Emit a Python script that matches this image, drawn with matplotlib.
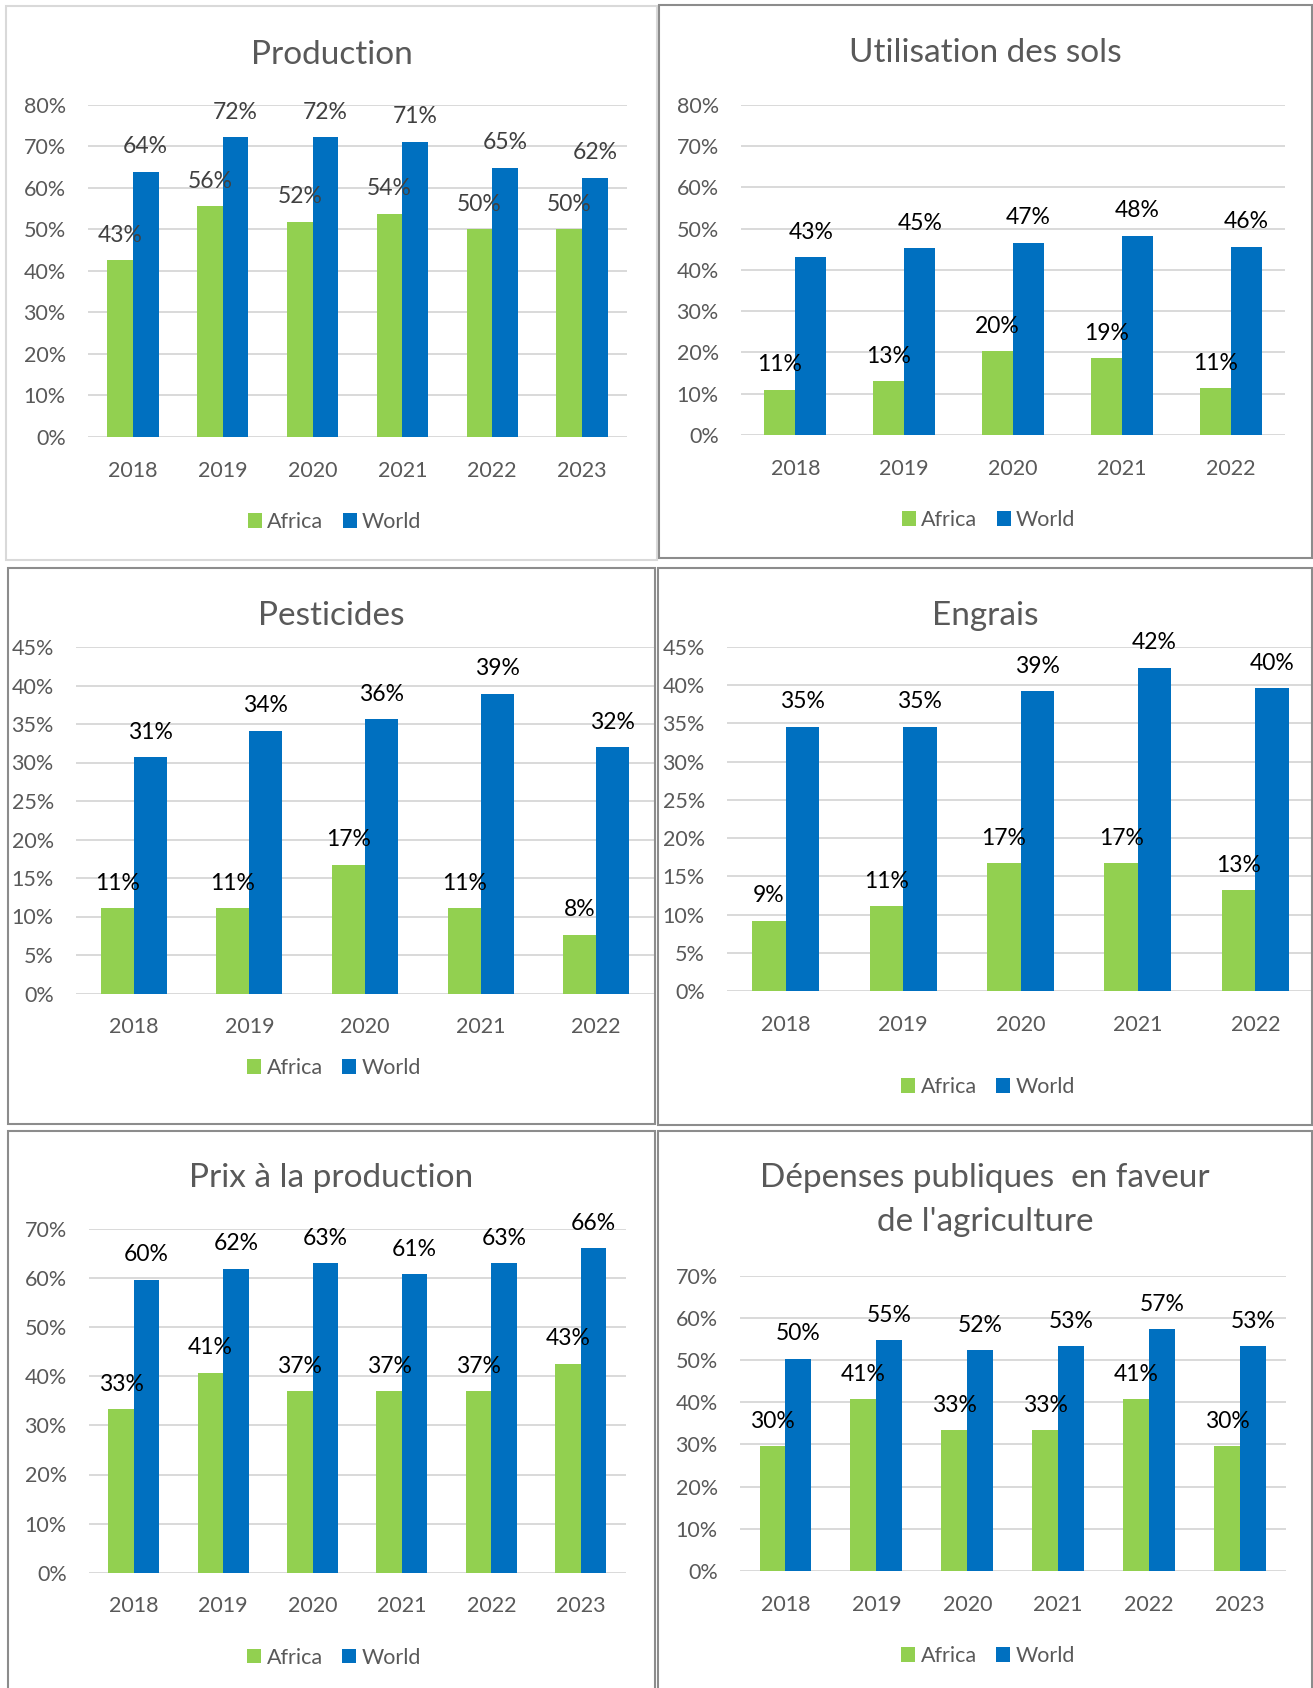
import matplotlib
matplotlib.use("Agg")
import matplotlib.pyplot as plt
from matplotlib.patches import Rectangle, Patch
from matplotlib.ticker import PercentFormatter, MultipleLocator
import numpy as np

plt.rcParams['font.family'] = ['Lato', 'DejaVu Sans']

# Data (shares, 0-1)
years_6 = ['2018', '2019', '2020', '2021', '2022', '2023']
years_5 = ['2018', '2019', '2020', '2021', '2022']

production_africa = [0.426, 0.556, 0.518, 0.537, 0.50, 0.50]
production_world = [0.638, 0.722, 0.722, 0.711, 0.648, 0.624]

sols_africa = [0.11, 0.13, 0.203, 0.186, 0.113]
sols_world = [0.43, 0.452, 0.466, 0.482, 0.456]

pesticides_africa = [0.111, 0.111, 0.167, 0.111, 0.076]
pesticides_world = [0.307, 0.341, 0.356, 0.389, 0.32]

engrais_africa = [0.092, 0.111, 0.167, 0.167, 0.132]
engrais_world = [0.346, 0.346, 0.392, 0.423, 0.396]

prix_africa = [0.333, 0.407, 0.37, 0.37, 0.37, 0.426]
prix_world = [0.597, 0.619, 0.63, 0.608, 0.63, 0.661]

depenses_africa = [0.296, 0.407, 0.333, 0.333, 0.407, 0.296]
depenses_world = [0.503, 0.547, 0.523, 0.533, 0.573, 0.532]

GREEN = '#92D050'
BLUE = '#0070C0'
GRID = '#D9D9D9'
TEXT = '#595959'

W, H = 1313, 1688
TICK_FS = 15.5
LABEL_FS = 16.5
TITLE_FS = 24

fig = plt.figure(figsize=(W / 100, H / 100), dpi=100)
fig.patch.set_facecolor('white')


def px_box(x0, y0, x1, y1):
    # pixel box (top-left origin) -> figure fraction [l, b, w, h]
    return [x0 / W, 1 - y1 / H, (x1 - x0) / W, (y1 - y0) / H]


def border(x0, y0, x1, y1, color):
    fig.patches.append(Rectangle((x0 / W, 1 - y1 / H), (x1 - x0) / W,
                                 (y1 - y0) / H, transform=fig.transFigure,
                                 fill=False, edgecolor=color, lw=1.5))


def panel(ax_px, frame_px, frame_color, titles, years, africa, world,
          ymax, ystep, label_color, legend_y):
    ax = fig.add_axes(px_box(*ax_px))
    x = np.arange(len(years))
    w = 0.285
    b1 = ax.bar(x - w / 2, africa, w, color=GREEN, zorder=2)
    b2 = ax.bar(x + w / 2, world, w, color=BLUE, zorder=2)
    for bars, vals in ((b1, africa), (b2, world)):
        for rect, v in zip(bars, vals):
            ax.annotate('{:.0%}'.format(v),
                        (rect.get_x() + rect.get_width() / 2, v),
                        xytext=(0, 18), textcoords='offset points',
                        ha='center', va='center', fontsize=LABEL_FS,
                        color=label_color, zorder=3)
    ax.set_xlim(-0.5, len(years) - 0.5)
    ax.set_ylim(0, ymax)
    ax.yaxis.set_major_locator(MultipleLocator(ystep))
    ax.yaxis.set_major_formatter(PercentFormatter(1.0, decimals=0))
    ax.set_xticks(x)
    ax.set_xticklabels(years)
    ax.tick_params(axis='y', length=0, pad=16, labelsize=TICK_FS,
                   labelcolor=TEXT)
    ax.tick_params(axis='x', length=0, pad=17, labelsize=TICK_FS,
                   labelcolor=TEXT)
    ax.grid(axis='y', color=GRID, lw=1.4, zorder=0)
    ax.set_axisbelow(True)
    for s in ax.spines.values():
        s.set_visible(False)
    ax.patch.set_alpha(0)

    fx0, fy0, fx1, fy1 = frame_px
    border(fx0, fy0, fx1, fy1, frame_color)
    cx = (fx0 + fx1) / 2
    for txt, base in titles:
        fig.text(cx / W, 1 - base / H, txt, ha='center', va='baseline',
                 fontsize=TITLE_FS, color=TEXT)

    handles = [Patch(facecolor=GREEN, label='Africa'),
               Patch(facecolor=BLUE, label='World')]
    leg = fig.legend(handles=handles, loc='center', ncol=2, frameon=False,
                     bbox_to_anchor=((cx + 3) / W, 1 - legend_y / H),
                     fontsize=TICK_FS, handlelength=0.65, handleheight=0.65,
                     handletextpad=0.25, columnspacing=0.9, borderpad=0)
    for t in leg.get_texts():
        t.set_color(TEXT)
    return ax


panel((88, 104.7, 627, 437), (6, 5.5, 657, 560), '#D9D9D9',
      [('Production', 63.6)], years_6, production_africa, production_world,
      0.8, 0.1, '#404040', 522)

panel((741, 104.7, 1285, 435), (659, 5.5, 1312, 558), '#8C8C8C',
      [('Utilisation des sols', 62.5)], years_5, sols_africa, sols_world,
      0.8, 0.1, 'black', 520)

panel((76, 647, 654, 993.5), (7.5, 568, 654.5, 1124), '#8C8C8C',
      [('Pesticides', 624.7)], years_5, pesticides_africa, pesticides_world,
      0.45, 0.05, 'black', 1068)

panel((727, 647, 1314, 991), (658, 568, 1312, 1125), '#8C8C8C',
      [('Engrais', 624.7)], years_5, engrais_africa, engrais_world,
      0.45, 0.05, 'black', 1087)

panel((89, 1229, 625.5, 1572.7), (7.5, 1131, 654.5, 1690), '#8C8C8C',
      [('Prix à la production', 1187)], years_6, prix_africa, prix_world,
      0.7, 0.1, 'black', 1657.5)

panel((740, 1275.6, 1285.5, 1571), (658, 1131, 1312, 1690), '#8C8C8C',
      [('Dépenses publiques  en faveur', 1187),
       ("de l'agriculture", 1231)], years_6, depenses_africa, depenses_world,
      0.7, 0.1, 'black', 1656)

fig.savefig('out.png', dpi=100, facecolor='white')
